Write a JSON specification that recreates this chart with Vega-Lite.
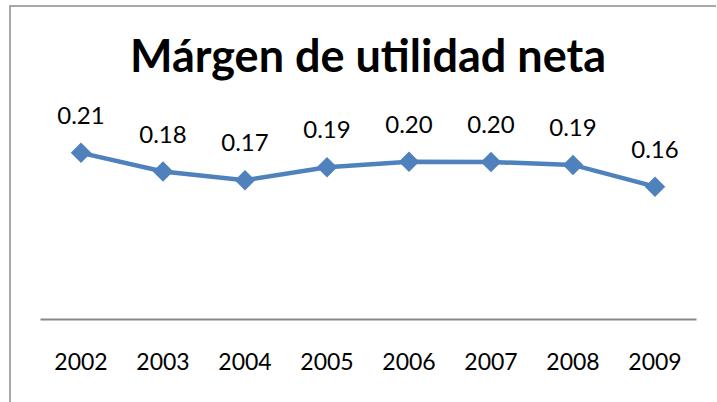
{
  "$schema": "https://vega.github.io/schema/vega-lite/v6.json",
  "autosize": {"type": "none"},
  "padding": {"left": 10, "top": 6, "right": -4, "bottom": -4},
  "width": 710,
  "height": 400,
  "background": "white",
  "title": {
    "text": "Márgen de utilidad neta",
    "font": "Lato",
    "fontSize": 45,
    "fontWeight": "bold",
    "color": "#000000",
    "anchor": "middle",
    "baseline": "alphabetic",
    "offset": -66,
    "dy": 45,
    "dx": 3
  },
  "data": {
    "values": [
      {"year": "2002", "margin": 0.207},
      {"year": "2003", "margin": 0.183},
      {"year": "2004", "margin": 0.172},
      {"year": "2005", "margin": 0.1885},
      {"year": "2006", "margin": 0.1956},
      {"year": "2007", "margin": 0.1953},
      {"year": "2008", "margin": 0.1915},
      {"year": "2009", "margin": 0.1636}
    ]
  },
  "encoding": {
    "x": {
      "field": "year",
      "type": "ordinal",
      "sort": null,
      "scale": {"type": "band", "range": [30, 686], "paddingInner": 0, "paddingOuter": 0},
      "axis": {
        "title": null,
        "orient": "bottom",
        "offset": -87,
        "labelAngle": 0,
        "labelFont": "Lato",
        "labelFontSize": 23,
        "labelColor": "#000000",
        "labelBaseline": "alphabetic",
        "labelPadding": 50,
        "ticks": false,
        "tickSize": 0,
        "domainColor": "#888888",
        "domainWidth": 2,
        "grid": false
      }
    },
    "y": {
      "field": "margin",
      "type": "quantitative",
      "scale": {"domain": [0, 0.25], "range": [308.3, 113.3], "zero": false, "nice": false},
      "axis": null
    }
  },
  "layer": [
    {
      "mark": {"type": "line", "color": "#4F81BD", "strokeWidth": 4.5}
    },
    {
      "mark": {"type": "point", "shape": "diamond", "size": 420, "filled": true, "color": "#4F81BD", "opacity": 1}
    },
    {
      "mark": {"type": "text", "font": "Lato", "fontSize": 24, "color": "#000000", "baseline": "alphabetic", "align": "center", "dy": -29},
      "encoding": {
        "text": {"field": "margin", "type": "quantitative", "format": ".2f"}
      }
    }
  ],
  "config": {
    "view": {"stroke": "#8c8c8c", "strokeWidth": 1.5}
  }
}
